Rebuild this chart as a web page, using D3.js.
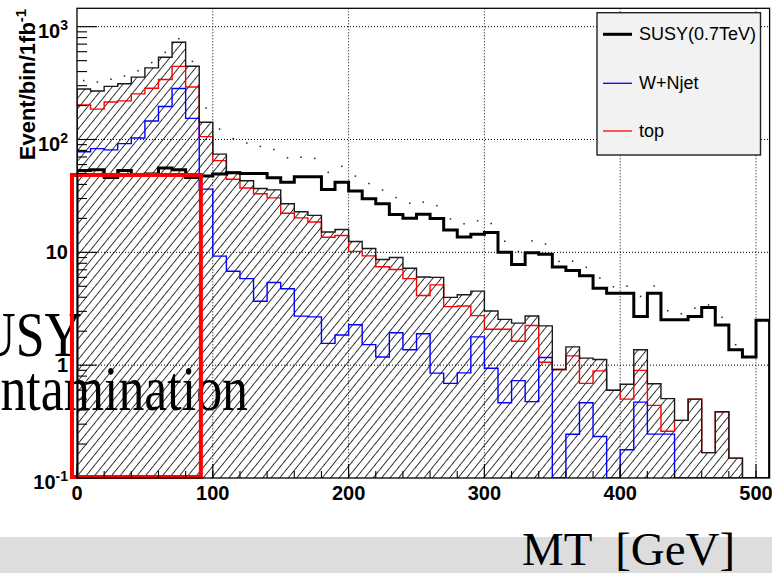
<!DOCTYPE html>
<html>
<head>
<meta charset="utf-8">
<script src="https://cdn.jsdelivr.net/npm/d3@7"></script>
<style>
  html, body { margin: 0; padding: 0; background: #fff; }
  svg { display: block; }
</style>
</head>
<body>
<svg id="chart" width="772" height="573"></svg>
<script>
// Transverse mass distributions, events per 10 GeV bin for 1 fb^-1
const binWidth = 10;
const nBins = 51;

const wNjet = [
  78, 83, 81, 92, 103, 146, 196, 283, 154, 36.3,
  9.25, 6.8, 5.85, 3.68, 5.4, 4.75, 2.72, 2.68, 1.56, 1.85,
  2.28, 1.52, 1.18, 1.94, 1.37, 1.9, 0.85, 0.69, 0.855, 1.78,
  0.94, 0.465, 0.73, 0.475, 1.17, 0, 0.244, 0.465, 0.233, 0,
  0.178, 0.47, 0.245, 0.245, 0, 0, 0, 0, 0, 0, 0
];

const topPair = [
  202, 186, 215, 220, 254, 285, 340, 445, 292, 106,
  65, 44.4, 37.2, 33.1, 30.4, 22.2, 20.2, 18.6, 13.6, 14.1,
  10.2, 9.3, 7.45, 7.05, 5.85, 4.15, 5.15, 3.3, 3.35, 2.75,
  2.08, 2.08, 1.63, 2.25, 1.06, 0.915, 1.21, 0.69, 0.89, 0.6,
  0.5, 0.9, 0.44, 0.26, 0.324, 0.5, 0.168, 0.387, 0.15, 0, 0
];

const susy = [
  53, 54, 46, 53, 49, 49.5, 56, 54, 46, 47.5,
  49.5, 50.7, 50, 50, 45.8, 41.9, 46.7, 46.7, 36, 41.9,
  34.9, 29.9, 27, 21.6, 20, 21.8, 19.9, 15.8, 13.7, 14.5,
  15, 10, 7.8, 9.9, 9.6, 7.4, 6.9, 6.2, 4.8, 4.35,
  4.35, 2.7, 4.35, 2.53, 2.53, 2.7, 3.25, 2.27, 1.37, 1.18, 2.5
];

const xTickValues = [0, 100, 200, 300, 400, 500];
const xTickLabels = ["0", "100", "200", "300", "400", "500"];
const yTickValues = [0.1, 1, 10, 100, 1000];
const yTickLabels = [["10", "-1"], ["1", ""], ["10", ""], ["10", "2"], ["10", "3"]];
const legendLabels = ["SUSY(0.7TeV)", "W+Njet", "top"];
const yTitle = ["Event/bin/1fb", "-1"];
const xTitle = "MT  [GeV]";
const noteLines = ["SUSY", "contamination"];
// control region below the W Jacobian edge
const controlRegion = { x0: -3.7, x1: 91.2, top: 48.5 };

// ---------- layout ----------
const plot = { left: 77, right: 769.6, top: 8.3, bottom: 478 };
const svg = d3.select("#chart");

const x = d3.scaleLinear().domain([0, nBins * binWidth]).range([plot.left, plot.right]);
const y = d3.scaleLog().domain([0.1, 1455]).range([plot.bottom, plot.top]);
const yMin = y.domain()[0];

const background = wNjet.map((w, i) => w + topPair[i]);
const withSignal = background.map((b, i) => b + susy[i]);

const defs = svg.append("defs");
defs.append("clipPath").attr("id", "plotClip")
  .append("rect")
  .attr("x", plot.left).attr("y", plot.top)
  .attr("width", plot.right - plot.left).attr("height", plot.bottom - plot.top);

// diagonal "/" hatching for the stacked background
const hatch = defs.append("pattern")
  .attr("id", "hatch")
  .attr("patternUnits", "userSpaceOnUse")
  .attr("width", 12).attr("height", 6.6)
  .attr("patternTransform", "rotate(-51)");
hatch.append("line")
  .attr("x1", 0).attr("x2", 12).attr("y1", 3.3).attr("y2", 3.3)
  .attr("stroke", "#000").attr("stroke-width", 0.8);

// ---------- grid ----------
const grid = svg.append("g").attr("stroke", "#000").attr("stroke-width", 1)
  .attr("stroke-dasharray", "1,2");
xTickValues.filter(v => v > 0).forEach(v => {
  grid.append("line").attr("x1", x(v)).attr("x2", x(v))
    .attr("y1", plot.top).attr("y2", plot.bottom);
});
yTickValues.filter(v => v > yMin).forEach(v => {
  grid.append("line").attr("y1", y(v)).attr("y2", y(v))
    .attr("x1", plot.left).attr("x2", plot.right);
});

// ---------- histograms ----------
function stepPoints(vals) {
  const pts = [[0, yMin]];
  vals.forEach((v, i) => {
    const vv = v > yMin ? v : yMin;
    pts.push([i * binWidth, vv], [(i + 1) * binWidth, vv]);
  });
  pts.push([nBins * binWidth, yMin]);
  return pts;
}
const stepLine = d3.line().x(d => x(d[0])).y(d => y(d[1]));

const hist = svg.append("g").attr("clip-path", "url(#plotClip)");

hist.append("path").attr("d", stepLine(stepPoints(background)) + "Z")
  .attr("fill", "url(#hatch)").attr("stroke", "none");

hist.append("path").attr("d", stepLine(stepPoints(topPair)))
  .attr("fill", "none").attr("stroke", "#ff0000").attr("stroke-width", 1.4);

hist.append("path").attr("d", stepLine(stepPoints(wNjet)))
  .attr("fill", "none").attr("stroke", "#0000ff").attr("stroke-width", 1.4);

hist.append("path").attr("d", stepLine(stepPoints(background)))
  .attr("fill", "none").attr("stroke", "#1a1a1a").attr("stroke-width", 1.4);

hist.append("path").attr("d", stepLine(stepPoints(susy)))
  .attr("fill", "none").attr("stroke", "#000").attr("stroke-width", 3);

hist.append("g").selectAll("rect").data(withSignal).join("rect")
  .attr("x", (d, i) => x((i + 0.5) * binWidth) - 0.75)
  .attr("y", d => y(d) - 0.75)
  .attr("width", 1.5).attr("height", 1.5)
  .attr("fill", "#222");

// ---------- annotation text ----------
const noteFont = "'Liberation Serif', 'Times New Roman', serif";
svg.append("text")
  .attr("transform", "translate(82,356) scale(0.81,1)")
  .attr("text-anchor", "end")
  .attr("font-family", noteFont).attr("font-size", 64).attr("fill", "#000")
  .text(noteLines[0]);
svg.append("text")
  .attr("transform", "translate(248,410) scale(0.81,1)")
  .attr("text-anchor", "end")
  .attr("font-family", noteFont).attr("font-size", 64).attr("fill", "#000")
  .text(noteLines[1]);

// ---------- control region box ----------
svg.append("rect")
  .attr("x", x(controlRegion.x0))
  .attr("y", y(controlRegion.top))
  .attr("width", x(controlRegion.x1) - x(controlRegion.x0))
  .attr("height", y(yMin) - 1 - y(controlRegion.top))
  .attr("fill", "none").attr("stroke", "#ff0000").attr("stroke-width", 4);

// ---------- frame and axes ----------
svg.append("rect")
  .attr("x", plot.left).attr("y", plot.top)
  .attr("width", plot.right - plot.left).attr("height", plot.bottom - plot.top)
  .attr("fill", "none").attr("stroke", "#000").attr("stroke-width", 1.3);

const ticks = svg.append("g").attr("stroke", "#000").attr("stroke-width", 1.1);
d3.range(0, nBins * binWidth + 1, 20).forEach(v => {
  ticks.append("line").attr("x1", x(v)).attr("x2", x(v))
    .attr("y1", plot.bottom).attr("y2", plot.bottom - 7);
});
xTickValues.forEach(v => {
  ticks.append("line").attr("x1", x(v)).attr("x2", x(v))
    .attr("y1", plot.bottom).attr("y2", plot.bottom - 14);
});
yTickValues.forEach(dec => {
  ticks.append("line").attr("x1", plot.left).attr("x2", plot.left + 20)
    .attr("y1", y(dec)).attr("y2", y(dec));
  for (let m = 2; m <= 9; m++) {
    const v = dec * m;
    if (v > y.domain()[1]) break;
    ticks.append("line").attr("x1", plot.left).attr("x2", plot.left + 10)
      .attr("y1", y(v)).attr("y2", y(v));
  }
});

const labelFont = "'Liberation Sans', Arial, Helvetica, sans-serif";
svg.append("g").selectAll("text").data(xTickValues).join("text")
  .attr("x", d => x(d)).attr("y", 499.5)
  .attr("text-anchor", "middle")
  .attr("font-family", labelFont).attr("font-weight", "bold").attr("font-size", 20)
  .attr("fill", "#000")
  .text((d, i) => xTickLabels[i]);

const yl = svg.append("g").attr("font-family", labelFont).attr("font-weight", "bold")
  .attr("fill", "#000");
yTickValues.forEach((v, i) => {
  const [base, expo] = yTickLabels[i];
  const t = yl.append("text").attr("x", 68).attr("text-anchor", "end")
    .attr("font-size", 20);
  if (expo) {
    t.attr("y", y(v) + 11);
    t.append("tspan").text(base);
    t.append("tspan").attr("font-size", 14).attr("dy", -8).text(expo);
  } else {
    t.attr("y", y(v) + 7).text(base);
  }
});

// y axis title
const yt = svg.append("text")
  .attr("transform", `translate(35,${plot.top + 0.5}) rotate(-90)`)
  .attr("text-anchor", "end")
  .attr("font-family", labelFont).attr("font-weight", "bold").attr("font-size", 22)
  .attr("fill", "#000");
yt.append("tspan").text(yTitle[0]);
yt.append("tspan").attr("font-size", 15).attr("dy", -9).text(yTitle[1]);

// ---------- legend ----------
const legend = svg.append("g");
legend.append("rect")
  .attr("x", 597).attr("y", 12.7).attr("width", 163.5).attr("height", 142.3)
  .attr("fill", "#f2f2f2").attr("stroke", "#222").attr("stroke-width", 1.4);
const legendStyles = [
  { color: "#000", width: 3 },
  { color: "#0000ff", width: 1.3 },
  { color: "#ff0000", width: 1.3 }
];
const legendRows = [34.3, 83.3, 131];
legendLabels.forEach((lab, i) => {
  legend.append("line")
    .attr("x1", 603).attr("x2", 632)
    .attr("y1", legendRows[i]).attr("y2", legendRows[i])
    .attr("stroke", legendStyles[i].color).attr("stroke-width", legendStyles[i].width);
  legend.append("text")
    .attr("x", 639).attr("y", legendRows[i])
    .attr("dominant-baseline", "central")
    .attr("font-family", labelFont).attr("font-size", 18).attr("fill", "#000")
    .text(lab);
});

// ---------- bottom caption band ----------
svg.append("rect").attr("x", 0).attr("y", 537).attr("width", 772).attr("height", 36)
  .attr("fill", "#dddddd");
svg.append("text")
  .attr("x", 522).attr("y", 565)
  .attr("font-family", noteFont).attr("font-size", 47).attr("fill", "#000")
  .attr("xml:space", "preserve").style("white-space", "pre")
  .text(xTitle);
</script>
</body>
</html>
